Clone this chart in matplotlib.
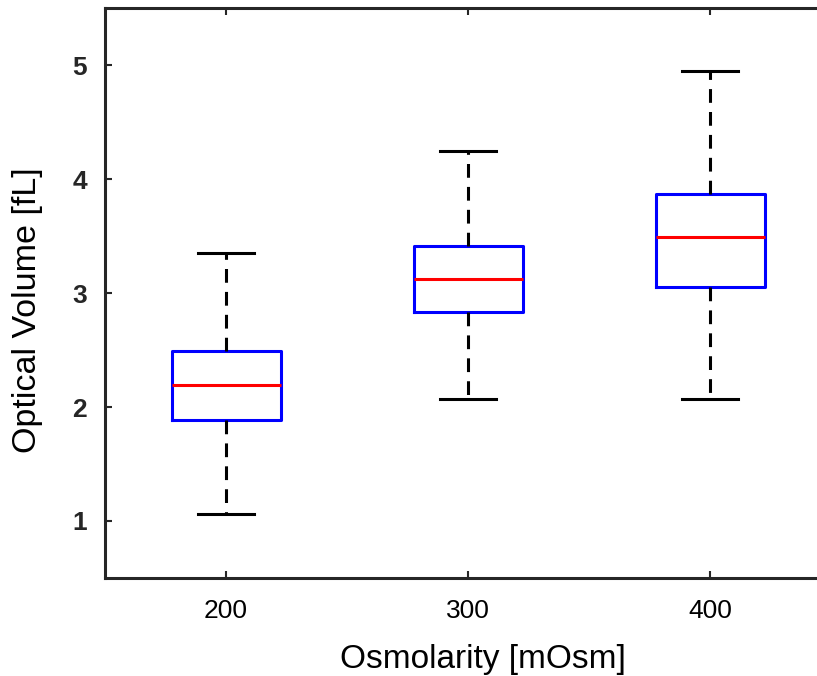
import matplotlib
matplotlib.use("Agg")
import matplotlib.pyplot as plt

plt.rcParams["font.family"] = ["Liberation Sans", "DejaVu Sans"]

# box statistics
osmolarity = [200, 300, 400]
whisker_low = [1.06, 2.07, 2.07]
q1 = [1.89, 2.83, 3.05]
median = [2.19, 3.12, 3.49]
q3 = [2.49, 3.41, 3.87]
whisker_high = [3.35, 4.25, 4.95]
yticks = [1, 2, 3, 4, 5]

stats = [dict(whislo=lo, q1=a, med=m, q3=b, whishi=hi, fliers=[])
         for lo, a, m, b, hi in zip(whisker_low, q1, median, q3, whisker_high)]

fig = plt.figure(figsize=(8.17, 6.76), dpi=100)
ax = fig.add_axes([0.1285, 0.145, 0.889, 0.843])
ax.bxp(stats, positions=osmolarity, widths=45, capwidths=23, showfliers=False,
       boxprops=dict(color="#0000ff", lw=2.2),
       medianprops=dict(color="#ff0000", lw=2.2),
       whiskerprops=dict(color="black", lw=2.2, ls=(0, (4.5, 3))),
       capprops=dict(color="black", lw=2.2))

ax.set_xlim(150, 450)
ax.set_ylim(0.5, 5.5)
ax.set_xticks(osmolarity)
ax.set_xticklabels([str(v) for v in osmolarity], fontsize=19)
ax.set_yticks(yticks)
ax.set_yticklabels([str(v) for v in yticks], fontsize=19, fontweight="bold", color="#262626")
ax.tick_params(axis="x", pad=15)
ax.tick_params(axis="y", pad=13)
ax.tick_params(direction="in", top=True, right=True, length=5, width=1.5, color="#262626")
for s in ax.spines.values():
    s.set_color("#262626"); s.set_linewidth(2.2)
ax.set_xlabel("Osmolarity [mOsm]", fontsize=24)
ax.set_ylabel("Optical Volume [fL]", fontsize=24.5)
ax.xaxis.set_label_coords(0.521, -0.115)
ax.yaxis.set_label_coords(-0.085, 0.47)

fig.savefig("out.png", dpi=100)
